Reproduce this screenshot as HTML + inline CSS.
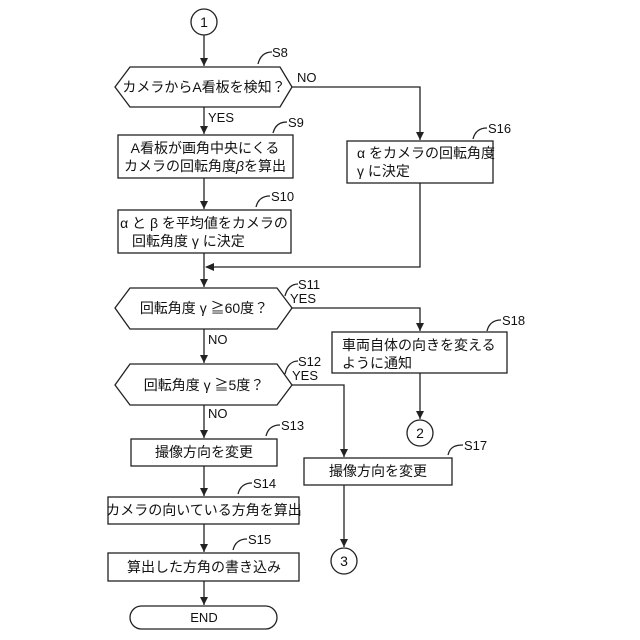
<!DOCTYPE html>
<html><head><meta charset="utf-8"><style>
html,body{margin:0;padding:0;background:#fff;}
svg{display:block;}
text{font-family:"Liberation Sans","Noto Sans CJK JP",sans-serif;fill:#111;}
.t{font-size:14px;}
.l{font-size:13px;}
</style></head><body>
<svg width="640" height="640" viewBox="0 0 640 640" xmlns="http://www.w3.org/2000/svg">
<defs>
<marker id="a" markerWidth="8" markerHeight="10" refX="4" refY="10" orient="auto" markerUnits="userSpaceOnUse" viewBox="0 0 8 10">
</marker>
</defs>
<g fill="none" stroke="#222" stroke-width="1.3">
<!-- circle 1 -->
<circle cx="204" cy="22" r="13"/>
<line x1="204" y1="35" x2="204" y2="66"/>
<!-- S8 hex -->
<polygon points="115,87 130,67 280,67 292,87 280,107 130,107"/>
<polyline points="292,87 420,87 420,140"/>
<line x1="204" y1="107" x2="204" y2="134"/>
<!-- S9 -->
<rect x="118" y="135" width="175" height="43"/>
<line x1="204" y1="178" x2="204" y2="209"/>
<!-- S16 -->
<rect x="347" y="141" width="146" height="42"/>
<!-- S10 -->
<rect x="118" y="210" width="173" height="43"/>
<line x1="204" y1="253" x2="204" y2="287"/>
<polyline points="420,183 420,267 206,267"/>
<!-- S11 hex -->
<polygon points="115,308 130,288 277,288 292,308 277,329 130,329"/>
<polyline points="292,308 420,308 420,331"/>
<line x1="204" y1="329" x2="204" y2="363"/>
<!-- S18 -->
<rect x="332" y="332" width="175" height="41"/>
<line x1="420" y1="373" x2="420" y2="419"/>
<circle cx="420" cy="433" r="13"/>
<!-- S12 hex -->
<polygon points="115,385 130,364 277,364 292,385 277,405 130,405"/>
<polyline points="292,385 344,385 344,457"/>
<line x1="204" y1="405" x2="204" y2="438"/>
<!-- S17 -->
<rect x="304" y="458" width="148" height="27"/>
<line x1="344" y1="485" x2="344" y2="547"/>
<circle cx="344" cy="561" r="13"/>
<!-- S13 -->
<rect x="131" y="439" width="146" height="27"/>
<line x1="204" y1="466" x2="204" y2="496"/>
<!-- S14 -->
<rect x="108" y="497" width="191" height="27"/>
<line x1="204" y1="524" x2="204" y2="552"/>
<!-- S15 -->
<rect x="108" y="553" width="191" height="28"/>
<line x1="204" y1="581" x2="204" y2="605"/>
<!-- END -->
<rect x="130" y="606" width="147" height="23" rx="11.5"/>
<!-- squiggles -->
<path d="M258,64 C260,56 265,52 272,52"/>
<path d="M273,133 C275,125 280,122 287,122"/>
<path d="M473,139 C475,131 480,128 487,128"/>
<path d="M256,207 C258,199 263,196 270,196"/>
<path d="M285,296 C287,288 292,284 298,284"/>
<path d="M487,331 C489,323 494,320 501,320"/>
<path d="M285,374 C287,365 292,361 298,361"/>
<path d="M266,436 C268,428 273,425 280,425"/>
<path d="M448,455 C450,447 455,445 463,445"/>
<path d="M238,494 C240,486 245,483 252,483"/>
<path d="M233,550 C235,542 240,539 247,539"/>
</g>
<!-- arrowheads -->
<g fill="#222">
<polygon points="200,58 208,58 204,66"/>
<polygon points="200,126 208,126 204,134"/>
<polygon points="416,132 424,132 420,140"/>
<polygon points="200,201 208,201 204,209"/>
<polygon points="214,263 214,271 205,267"/>
<polygon points="200,279 208,279 204,287"/>
<polygon points="416,323 424,323 420,331"/>
<polygon points="200,355 208,355 204,363"/>
<polygon points="416,411 424,411 420,419"/>
<polygon points="340,449 348,449 344,457"/>
<polygon points="200,430 208,430 204,438"/>
<polygon points="340,539 348,539 344,547"/>
<polygon points="200,488 208,488 204,496"/>
<polygon points="200,544 208,544 204,552"/>
<polygon points="200,597 208,597 204,605"/>
</g>
<!-- connector numbers -->
<text x="204" y="27" class="t" text-anchor="middle">1</text>
<text x="420" y="438" class="t" text-anchor="middle">2</text>
<text x="344" y="566" class="t" text-anchor="middle">3</text>
<!-- node text -->
<text x="204" y="92" class="t" text-anchor="middle">カメラからA看板を検知？</text>
<text x="205" y="153" class="t" text-anchor="middle">A看板が画角中央にくる</text>
<text x="205" y="171" class="t" text-anchor="middle">カメラの回転角度<tspan font-style="italic">β</tspan>を算出</text>
<text x="357" y="158" class="t">α をカメラの回転角度</text>
<text x="357" y="176" class="t">γ に決定</text>
<text x="204" y="228" class="t" text-anchor="middle">α と β を平均値をカメラの</text>
<text x="132" y="246" class="t">回転角度 γ に決定</text>
<text x="204" y="313" class="t" text-anchor="middle">回転角度 γ ≧60度？</text>
<text x="342" y="350" class="t">車両自体の向きを変える</text>
<text x="342" y="368" class="t">ように通知</text>
<text x="204" y="390" class="t" text-anchor="middle">回転角度 γ ≧5度？</text>
<text x="204" y="457" class="t" text-anchor="middle">撮像方向を変更</text>
<text x="378" y="476" class="t" text-anchor="middle">撮像方向を変更</text>
<text x="204" y="515" class="t" text-anchor="middle">カメラの向いている方角を算出</text>
<text x="204" y="572" class="t" text-anchor="middle">算出した方角の書き込み</text>
<text x="204" y="622" class="l" text-anchor="middle">END</text>
<!-- labels -->
<text x="272" y="57" class="l">S8</text>
<text x="297" y="82" class="l">NO</text>
<text x="208" y="122" class="l">YES</text>
<text x="288" y="127" class="l">S9</text>
<text x="488" y="133" class="l">S16</text>
<text x="271" y="201" class="l">S10</text>
<text x="298" y="289" class="l">S11</text>
<text x="290" y="303" class="l">YES</text>
<text x="502" y="325" class="l">S18</text>
<text x="208" y="344" class="l">NO</text>
<text x="298" y="366" class="l">S12</text>
<text x="292" y="380" class="l">YES</text>
<text x="208" y="418" class="l">NO</text>
<text x="281" y="430" class="l">S13</text>
<text x="464" y="450" class="l">S17</text>
<text x="253" y="488" class="l">S14</text>
<text x="248" y="544" class="l">S15</text>
</svg>
</body></html>
